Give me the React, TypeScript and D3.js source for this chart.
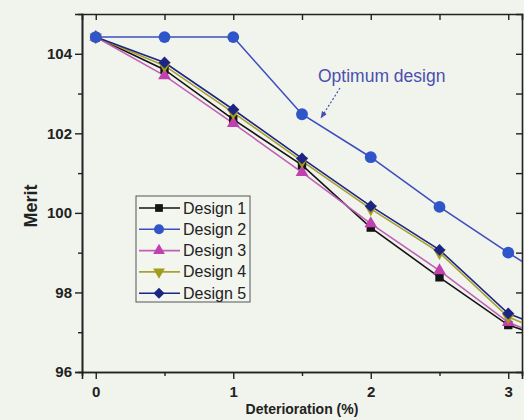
import React, { useEffect, useRef } from "react";
import * as d3 from "d3";

// deterioration levels (%), last one lies past the frame and is clipped
const xs = [0, 0.5, 1, 1.5, 2, 2.5, 3, 3.5];

const design1 = [104.42, 103.6, 102.35, 101.2, 99.63, 98.38, 97.18, 96.6];
const design2 = [104.42, 104.42, 104.42, 102.48, 101.4, 100.15, 99.0, 97.9];
const design3 = [104.42, 103.45, 102.25, 101.02, 99.73, 98.55, 97.25, 96.55];
const design4 = [104.42, 103.7, 102.52, 101.3, 100.1, 99.0, 97.38, 96.7];
const design5 = [104.42, 103.78, 102.6, 101.37, 100.17, 99.07, 97.47, 96.8];

const seriesNames = ["Design 1", "Design 2", "Design 3", "Design 4", "Design 5"];
const seriesValues = [design1, design2, design3, design4, design5];
const seriesColors = ["#141414", "#2f55c9", "#c23fb0", "#a39b1c", "#1c2583"];
const seriesLines = ["#141414", "#3d4fc0", "#c060b8", "#a8a030", "#1c2583"];
const seriesSymbols = [d3.symbolSquare, d3.symbolCircle, d3.symbolTriangle, d3.symbolTriangle, d3.symbolSquare];
const seriesRotate = [0, 0, 0, 180, 45];

const yTicks = [96, 98, 100, 102, 104];
const xTicks = [0, 1, 2, 3];

function App() {
  const svgRef = useRef(null);
  const [width, height] = [524, 420];
  const margin = { top: 14, right: 2, bottom: 48, left: 82 };

  useEffect(() => {
    const svg = d3.select(svgRef.current);
    svg.selectAll("*").remove();

    const x = d3.scaleLinear().domain([-0.1, 3.1]).range([margin.left, width - margin.right]);
    const y = d3.scaleLinear().domain([96, 105]).range([height - margin.bottom, margin.top]);

    svg.append("rect").attr("width", width).attr("height", height).attr("fill", "#f1f4ec");

    svg
      .append("defs")
      .append("clipPath")
      .attr("id", "plotclip")
      .append("rect")
      .attr("x", margin.left)
      .attr("y", margin.top)
      .attr("width", width - margin.right - margin.left)
      .attr("height", height - margin.bottom - margin.top);

    const font = "Liberation Sans, Arial, sans-serif";

    // axes
    const bottom = svg
      .append("g")
      .attr("transform", `translate(0,${y(96)})`)
      .call(d3.axisBottom(x).tickValues(xTicks).tickSize(7).tickFormat(d3.format("d")));
    bottom.append("g").call(d3.axisBottom(x).tickValues([0.5, 1.5, 2.5]).tickSize(4).tickFormat(() => ""));

    const left = svg
      .append("g")
      .attr("transform", `translate(${x(-0.1)},0)`)
      .call(d3.axisLeft(y).tickValues(yTicks).tickSize(7).tickFormat(d3.format("d")));
    left.append("g").call(d3.axisLeft(y).tickValues([97, 99, 101, 103]).tickSize(4).tickFormat(() => ""));

    svg
      .append("g")
      .attr("transform", `translate(0,${y(105)})`)
      .call(d3.axisBottom(x).tickValues([0, 0.5, 1, 1.5, 2, 2.5, 3]).tickSize(6).tickFormat(() => ""));

    svg
      .append("g")
      .attr("transform", `translate(${x(3.1)},0)`)
      .call(d3.axisLeft(y).tickValues([97, 98, 99, 100, 101, 102, 103, 104]).tickSize(6).tickFormat(() => ""));

    svg.selectAll(".domain").attr("stroke", "#222").attr("stroke-width", 1.6);
    svg.selectAll(".tick line").attr("stroke", "#222").attr("stroke-width", 1.4);
    svg
      .selectAll(".tick text")
      .attr("font-family", font)
      .attr("font-size", 15)
      .attr("font-weight", "bold")
      .attr("fill", "#222");
    bottom.selectAll(".tick text").attr("dy", "1.0em");

    // axis titles
    svg
      .append("text")
      .attr("transform", `translate(37,206) rotate(-90)`)
      .attr("text-anchor", "middle")
      .attr("font-family", font)
      .attr("font-size", 18)
      .attr("font-weight", "bold")
      .attr("fill", "#222")
      .text("Merit");

    svg
      .append("text")
      .attr("x", (x(-0.1) + x(3.1)) / 2)
      .attr("y", 414)
      .attr("text-anchor", "middle")
      .attr("font-family", font)
      .attr("font-size", 14)
      .attr("font-weight", "bold")
      .attr("fill", "#222")
      .text("Deterioration (%)");

    // series
    const plot = svg.append("g").attr("clip-path", "url(#plotclip)");
    const line = d3
      .line()
      .x((d, i) => x(xs[i]))
      .y((d) => y(d));

    const order = [0, 2, 3, 4, 1];
    order.forEach((s) => {
      plot
        .append("path")
        .attr("d", line(seriesValues[s]))
        .attr("fill", "none")
        .attr("stroke", seriesLines[s])
        .attr("stroke-width", 1.6);
    });
    order.forEach((s) => {
      const sym = d3.symbol().type(seriesSymbols[s]).size(s === 4 ? 70 : s === 1 ? 110 : 70);
      plot
        .selectAll(`.m${s}`)
        .data(seriesValues[s])
        .join("path")
        .attr("class", `m${s}`)
        .attr("d", sym)
        .attr("transform", (d, i) => `translate(${x(xs[i])},${y(d)}) rotate(${seriesRotate[s]})`)
        .attr("fill", seriesColors[s]);
    });

    // annotation
    svg
      .append("defs")
      .append("marker")
      .attr("id", "arrow")
      .attr("viewBox", "0 0 10 10")
      .attr("refX", 9)
      .attr("refY", 5)
      .attr("markerWidth", 6)
      .attr("markerHeight", 6)
      .attr("orient", "auto")
      .append("path")
      .attr("d", "M0,1 L10,5 L0,9 z")
      .attr("fill", "#4a4fb0");

    svg
      .append("text")
      .attr("x", 318)
      .attr("y", 82)
      .attr("font-family", font)
      .attr("font-size", 17.5)
      .attr("fill", "#4a4fb0")
      .text("Optimum design");

    svg
      .append("line")
      .attr("x1", 340)
      .attr("y1", 88)
      .attr("x2", 321)
      .attr("y2", 118)
      .attr("stroke", "#4a4fb0")
      .attr("stroke-width", 1.2)
      .attr("stroke-dasharray", "2,2")
      .attr("marker-end", "url(#arrow)");

    // legend
    const lg = svg.append("g").attr("transform", "translate(136,196)");
    lg.append("rect")
      .attr("width", 114)
      .attr("height", 106)
      .attr("fill", "#f3f5ef")
      .attr("stroke", "#555")
      .attr("stroke-width", 1);
    seriesNames.forEach((name, s) => {
      const cy = 12 + s * 21.3;
      lg.append("line")
        .attr("x1", 3)
        .attr("x2", 44)
        .attr("y1", cy)
        .attr("y2", cy)
        .attr("stroke", seriesLines[s])
        .attr("stroke-width", 1.6);
      lg.append("path")
        .attr("d", d3.symbol().type(seriesSymbols[s]).size(s === 1 ? 80 : 60)())
        .attr("transform", `translate(23,${cy}) rotate(${seriesRotate[s]})`)
        .attr("fill", seriesColors[s]);
      lg.append("text")
        .attr("x", 47)
        .attr("y", cy + 5.5)
        .attr("font-family", font)
        .attr("font-size", 16)
        .attr("fill", "#222")
        .text(name);
    });
  }, []);

  return (
    <div style={{ position: "absolute", left: 0, top: 0 }}>
      <svg ref={svgRef} width={width} height={height} style={{ display: "block" }}></svg>
    </div>
  );
}

export default App;
